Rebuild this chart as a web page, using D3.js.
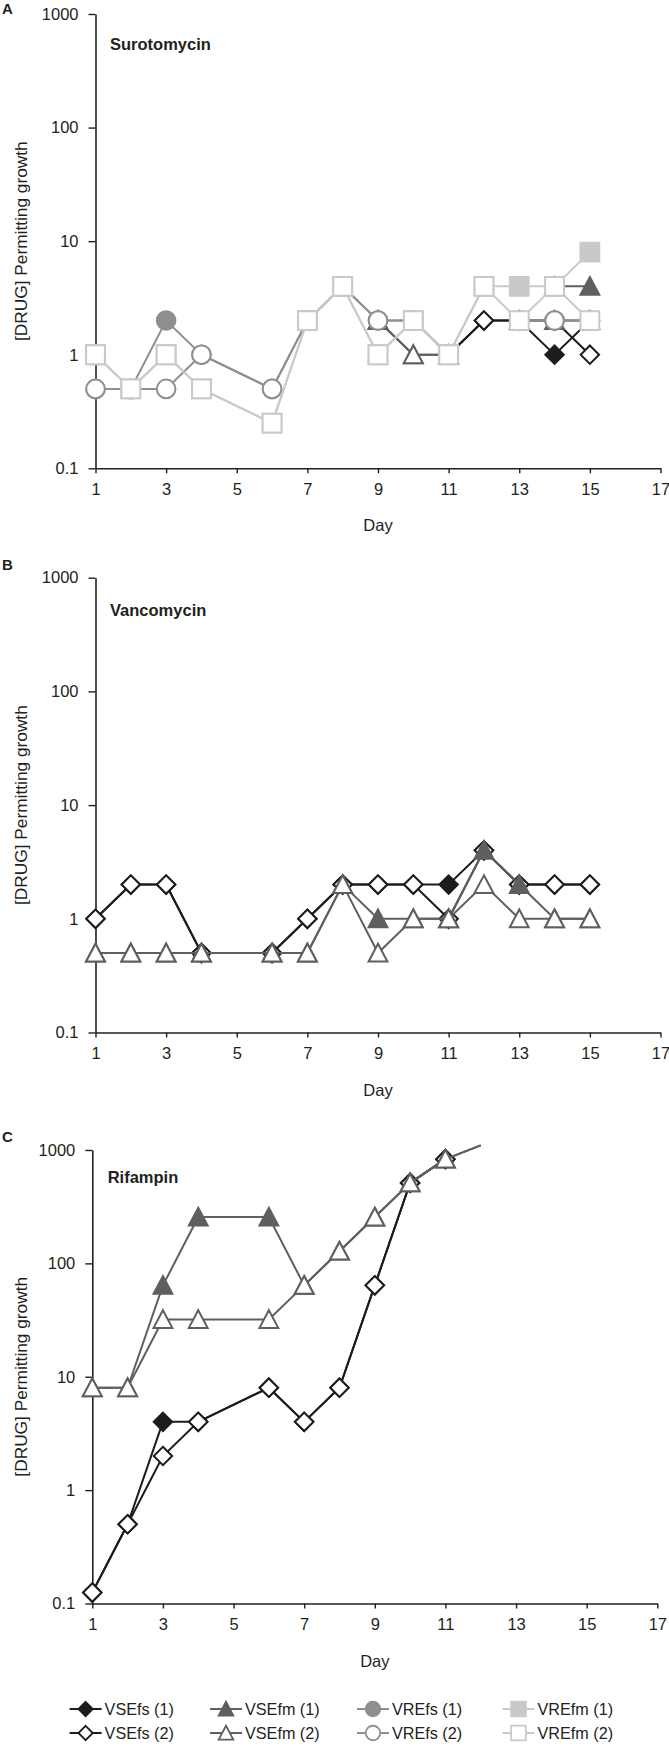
<!DOCTYPE html>
<html><head><meta charset="utf-8">
<script src="https://cdn.jsdelivr.net/npm/d3@7"></script>
<style>
body{margin:0;background:#fff}
svg{display:block}
text{font-family:"Liberation Sans",Arial,Helvetica,sans-serif;fill:#231f20}
</style>
</head><body>
<svg id="chart" width="669" height="1746"></svg>
<script>
// ---- data ----
const xTickValues = [1,3,5,7,9,11,13,15,17];
const yTickValues = [0.1,1,10,100,1000];
const yTickLabels = ["0.1","1","10","100","1000"];

const seriesNames = ["VSEfs (1)","VSEfm (1)","VREfs (1)","VREfm (1)","VSEfs (2)","VSEfm (2)","VREfs (2)","VREfm (2)"];

// Panel A - Surotomycin
const suroDays   = [1,2,3,4,6,7,8,9,10,11,12,13,14,15];
const suroVSEfs1 = [null,null,null,null,null,null,null,null,null,1,2,2,1,2];
const suroVSEfs2 = [null,null,null,null,null,null,null,null,null,1,2,2,2,1];
const suroVSEfm1 = [null,null,null,null,null,null,null,2,1,1,null,null,4,4];
const suroVSEfm2 = [null,null,null,null,null,null,null,2,1,1,null,2,2,2];
const suroVREfs1 = [0.5,0.5,2,1,0.5,2,4,2,2,1,null,2,2,2];
const suroVREfs2 = [0.5,0.5,0.5,1,0.5,2,4,2,2,1,null,2,2,2];
const suroVREfm1 = [1,0.5,1,0.5,0.25,2,4,1,2,1,4,4,4,8];
const suroVREfm2 = [1,0.5,1,0.5,0.25,2,4,1,2,1,4,2,4,2];

// Panel B - Vancomycin
const vancoDays   = [1,2,3,4,6,7,8,9,10,11,12,13,14,15];
const vancoVSEfs1 = [1,2,2,0.5,0.5,1,2,2,2,2,4,2,2,2];
const vancoVSEfs2 = [1,2,2,0.5,0.5,1,2,2,2,1,4,2,2,2];
const vancoVSEfm1 = [0.5,0.5,0.5,0.5,0.5,0.5,2,1,1,1,4,2,1,1];
const vancoVSEfm2 = [0.5,0.5,0.5,0.5,0.5,0.5,2,0.5,1,1,2,1,1,1];

// Panel C - Rifampin
const rifDays   = [1,2,3,4,6,7,8,9,10,11,12];
const rifVSEfs1 = [0.125,0.5,4,4,8,4,8,64,512,830,null];
const rifVSEfs2 = [0.125,0.5,2,4,8,4,8,64,512,830,null];
const rifVSEfm1 = [8,8,64,256,256,64,128,256,512,830,1100];
const rifVSEfm2 = [8,8,32,32,32,64,128,256,512,830,1100];

// ---- styles ----
const COLORS = {VSEfs:"#1c1c1c", VSEfm:"#5f5f5f", VREfs:"#8f8f8f", VREfm:"#c9c9c9"};
const SHAPES = {VSEfs:"diamond", VSEfm:"triangle", VREfs:"circle", VREfm:"square"};

function shapePath(shape, s){
  if(shape==="diamond"){const r=9.2*s;return `M0,${-r}L${r},0L0,${r}L${-r},0Z`;}
  if(shape==="triangle"){const w=9.4*s,t=9.3*s,b=8.4*s;return `M0,${-t}L${w},${b}L${-w},${b}Z`;}
  if(shape==="circle"){const r=9.3*s;return `M${r},0A${r},${r} 0 1,1 ${-r},0A${r},${r} 0 1,1 ${r},0Z`;}
  const h=9.4*s;return `M${-h},${-h}H${h}V${h}H${-h}Z`;
}

const svg = d3.select("#chart");

function drawPanel(p){
  const g = svg.append("g");
  const x = d3.scaleLinear().domain([1,17]).range([p.x0,p.x1]);
  const y = d3.scaleLog().domain([0.1,1000]).range([p.yb,p.yt]);

  const ya = g.append("g").attr("transform",`translate(${p.x0},0)`)
    .call(d3.axisLeft(y).tickValues(yTickValues).tickFormat((d,i)=>yTickLabels[i]).tickSize(7).tickSizeOuter(0).tickPadding(10));
  const xa = g.append("g").attr("transform",`translate(0,${p.yb})`)
    .call(d3.axisBottom(x).tickValues(xTickValues).tickFormat(d3.format("d")).tickSize(5).tickSizeOuter(0).tickPadding(10));
  [ya,xa].forEach(a=>{
    a.selectAll("path.domain").attr("stroke","#231f20").attr("stroke-width",1.6);
    a.selectAll(".tick line").attr("stroke","#231f20").attr("stroke-width",1.4);
    a.selectAll("text").attr("font-size",16.5).attr("fill","#231f20")
      .attr("font-family",'"Liberation Sans",Arial,sans-serif');
  });

  g.append("text").attr("x",2).attr("y",p.letterY).attr("font-weight","bold").attr("font-size",15).text(p.letter);
  g.append("text").attr("x",p.titleX).attr("y",p.titleY).attr("font-weight","bold").attr("font-size",16.5).text(p.title);
  g.append("text").attr("transform",`translate(27,${(p.yt+p.yb)/2}) rotate(-90)`)
    .attr("text-anchor","middle").attr("font-size",17.3).text("[DRUG] Permitting growth");
  g.append("text").attr("x",(p.x0+p.x1)/2).attr("y",p.yb+63).attr("text-anchor","middle").attr("font-size",16.5).text("Day");

  const line = d3.line().defined(d=>d.v!=null).x(d=>x(d.day)).y(d=>y(d.v));
  p.series.forEach(s=>{
    const pts = p.days.map((d,i)=>({day:d,v:s.values[i]}));
    const col = COLORS[s.kind];
    const sg = g.append("g");
    sg.append("path").attr("d",line(pts)).attr("fill","none").attr("stroke",col).attr("stroke-width",2);
    sg.selectAll("path.m").data(pts.filter(d=>d.v!=null && d.v<=1000)).join("path").attr("class","m")
      .attr("transform",d=>`translate(${x(d.day)},${y(d.v)})`)
      .attr("d",shapePath(SHAPES[s.kind],1))
      .attr("fill",s.filled?col:"#fff").attr("stroke",col).attr("stroke-width",2);
  });
}

drawPanel({letter:"A",letterY:14,title:"Surotomycin",titleX:110,titleY:50,
  x0:95.5,x1:660.5,yt:14,yb:468.3,days:suroDays,series:[
  {kind:"VSEfs",filled:true,values:suroVSEfs1},{kind:"VSEfs",filled:false,values:suroVSEfs2},
  {kind:"VSEfm",filled:true,values:suroVSEfm1},{kind:"VSEfm",filled:false,values:suroVSEfm2},
  {kind:"VREfs",filled:true,values:suroVREfs1},{kind:"VREfs",filled:false,values:suroVREfs2},
  {kind:"VREfm",filled:true,values:suroVREfm1},{kind:"VREfm",filled:false,values:suroVREfm2}]});

drawPanel({letter:"B",letterY:570,title:"Vancomycin",titleX:110,titleY:616,
  x0:95.5,x1:660.5,yt:577.7,yb:1032.5,days:vancoDays,series:[
  {kind:"VSEfs",filled:true,values:vancoVSEfs1},{kind:"VSEfs",filled:false,values:vancoVSEfs2},
  {kind:"VSEfm",filled:true,values:vancoVSEfm1},{kind:"VSEfm",filled:false,values:vancoVSEfm2}]});

drawPanel({letter:"C",letterY:1141.5,title:"Rifampin",titleX:107.7,titleY:1183,
  x0:92.3,x1:657.3,yt:1150,yb:1603.5,days:rifDays,series:[
  {kind:"VSEfs",filled:true,values:rifVSEfs1},{kind:"VSEfs",filled:false,values:rifVSEfs2},
  {kind:"VSEfm",filled:true,values:rifVSEfm1},{kind:"VSEfm",filled:false,values:rifVSEfm2}]});

// ---- legend ----
const legendKinds = ["VSEfs","VSEfm","VREfs","VREfm"];
const legendX = [85.6,226,373,518.5];
const legendRowY = [1709,1733];
const lg = svg.append("g");
seriesNames.forEach((name,i)=>{
  const col = i%4, row = Math.floor(i/4);
  const kind = legendKinds[col];
  const cx = legendX[col], cy = legendRowY[row];
  const c = COLORS[kind];
  lg.append("line").attr("x1",cx-16).attr("x2",cx+16).attr("y1",cy).attr("y2",cy).attr("stroke",c).attr("stroke-width",2);
  lg.append("path").attr("transform",`translate(${cx},${cy})`).attr("d",shapePath(SHAPES[kind],0.78))
    .attr("fill",row===0?c:"#fff").attr("stroke",c).attr("stroke-width",1.8);
  lg.append("text").attr("x",cx+19).attr("y",cy+6).attr("font-size",16.2).text(name);
});
</script>
</body></html>
